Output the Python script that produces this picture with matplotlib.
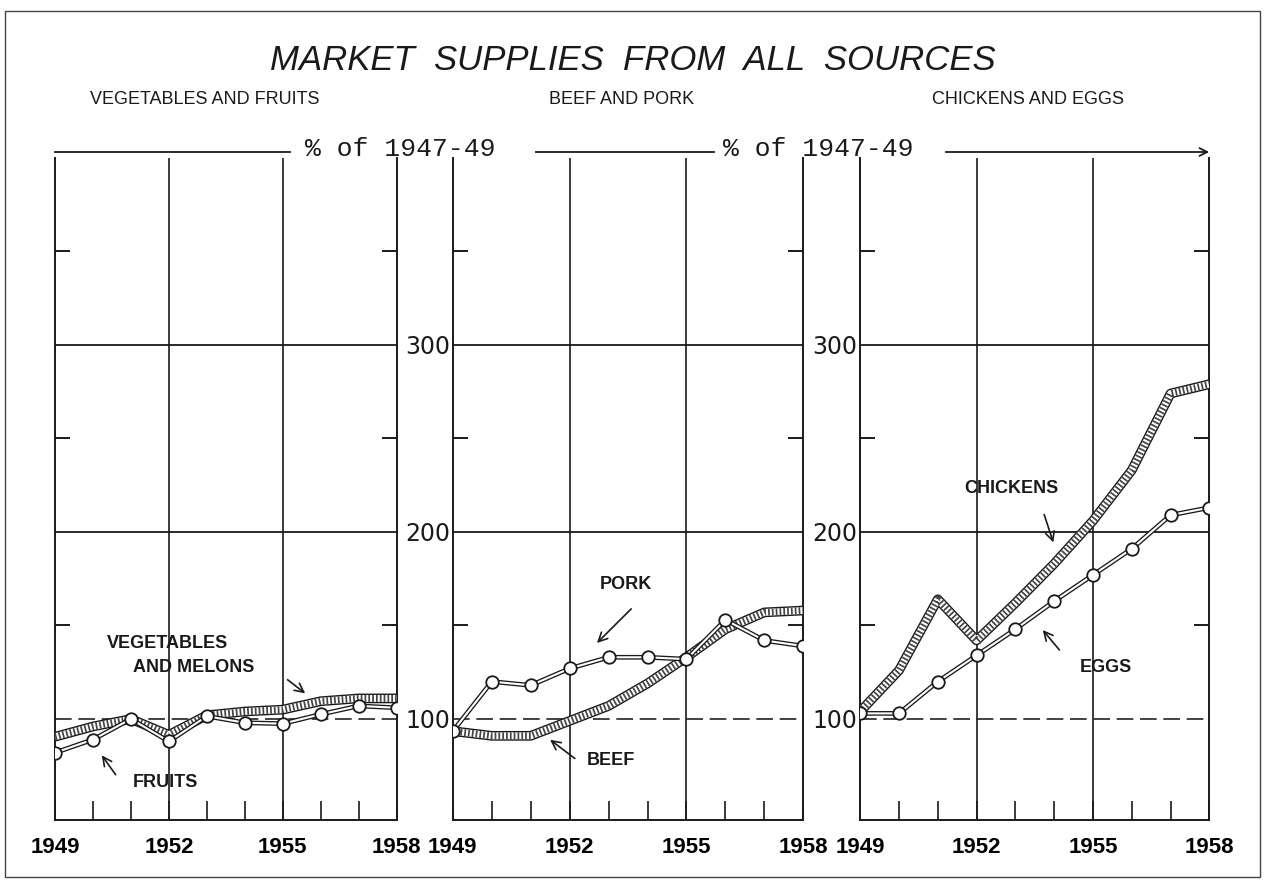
import numpy as np
import matplotlib.pyplot as plt
from matplotlib.patches import Rectangle, FancyArrowPatch
from matplotlib.lines import Line2D

# --- data (% of 1947-49) ---
years = [1949, 1950, 1951, 1952, 1953, 1954, 1955, 1956, 1957, 1958]
year_labels = [1949, 1952, 1955, 1958]

vegetables = [90.5, 96, 100, 91.5, 102, 104, 105, 109.5, 111, 111]
fruits = [82, 89, 100, 88, 101.5, 98, 97.5, 102.5, 107, 106]
beef = [93.5, 91, 91, 99, 107, 119, 133, 148, 157, 158]
pork = [93.5, 120, 118, 127, 133, 133, 132, 153, 142, 139]
chickens = [104, 126, 164, 142, 162, 183, 206, 233, 274, 279]
eggs = [103, 103, 120, 134, 148, 163, 177, 191, 209, 213]

panel_titles = ["VEGETABLES AND FRUITS", "BEEF AND PORK", "CHICKENS AND EGGS"]

SANS = ['Liberation Sans', 'DejaVu Sans']
INK = '#1a1a1a'


def hatched(ax, x, y):
    # thick band drawn as outline + cross bars
    ax.plot(x, y, color=INK, lw=7, solid_capstyle='butt', zorder=4)
    ax.plot(x, y, color='white', lw=5, solid_capstyle='butt', zorder=5)
    ax.plot(x, y, color='#444444', lw=5, linestyle=(0, (0.25, 0.3)),
            dash_capstyle='butt', zorder=6)


def circled(ax, x, y):
    # double thin line with open circles
    ax.plot(x, y, color=INK, lw=3.4, zorder=7)
    ax.plot(x, y, color='white', lw=1.5, zorder=8)
    ax.plot(x, y, linestyle='none', marker='o', ms=9, mfc='white',
            mec=INK, mew=1.3, zorder=9)


fig = plt.figure(figsize=(12.65, 8.84), dpi=100)
fig.patch.set_facecolor('white')

# panel placement (figure fractions)
boxes = [(0.0435, 0.270), (0.358, 0.277), (0.680, 0.276)]
bottom, height = 0.0724, 0.749
title_x = [205, 622, 1028]

axes = []
for i, (left, width) in enumerate(boxes):
    ax = fig.add_axes([left, bottom, width, height])
    ax.set_xlim(1949, 1958)
    ax.set_ylim(46, 400)
    for s in ['left', 'right', 'bottom']:
        ax.spines[s].set_linewidth(1.4)
        ax.spines[s].set_color(INK)
    ax.spines['top'].set_visible(False)

    # grid
    for v in [200, 300]:
        ax.axhline(v, color=INK, lw=1.3, zorder=1)
    ax.axhline(100, color='#222222', lw=1.2, ls=(0, (10, 4)), zorder=1)
    for yr in [1952, 1955]:
        ax.axvline(yr, color=INK, lw=1.2, zorder=1)

    # x ticks: one per year, labels only on some
    ax.set_xticks(years)
    ax.set_xticklabels([str(y) if y in year_labels else '' for y in years],
                       family=SANS, fontsize=16, fontweight='bold')
    ax.tick_params(axis='x', direction='in', length=14, width=1.2,
                   color=INK, pad=12)

    # y ticks: labelled 100/200/300 on panels 2 and 3, short dashes between
    ax.set_yticks([100, 200, 300])
    ax.set_yticks([150, 250, 350], minor=True)
    if i > 0:
        ax.set_yticklabels(['100', '200', '300'], fontsize=17, color=INK)
    else:
        ax.set_yticklabels([])
    ax.tick_params(axis='y', which='major', length=0, pad=2)
    ax.tick_params(axis='y', which='minor', direction='in', length=11,
                   width=1.4, left=True, right=True, color=INK)

    fig.text(title_x[i] / 1265, 1 - 100 / 884, panel_titles[i],
             ha='center', va='center', family=SANS, fontsize=13, color=INK)
    axes.append(ax)

ax1, ax2, ax3 = axes

hatched(ax1, years, vegetables)
circled(ax1, years, fruits)
hatched(ax2, years, beef)
circled(ax2, years, pork)
hatched(ax3, years, chickens)
circled(ax3, years, eggs)

# --- series labels with arrows ---
lab = dict(family=SANS, fontsize=13, fontweight='bold',
           color=INK, va='center', ha='left', zorder=10)
arr = dict(arrowstyle='->', color=INK, lw=1.2, mutation_scale=16)

ax1.text(1950.37, 140.6, 'VEGETABLES', **lab)
ax1.text(1951.06, 127.3, 'AND MELONS', **lab)
ax1.annotate('', xy=(1955.65, 112.8), xytext=(1955.07, 121.9), arrowprops=arr)
ax1.text(1951.06, 66.3, 'FRUITS', **lab)
ax1.annotate('', xy=(1950.19, 81.8), xytext=(1950.64, 69), arrowprops=arr)

ax2.text(1952.78, 171.7, 'PORK', **lab)
ax2.annotate('', xy=(1952.65, 139.6), xytext=(1953.63, 159.9), arrowprops=arr)
ax2.text(1952.44, 78, 'BEEF', **lab)
ax2.annotate('', xy=(1951.44, 89.8), xytext=(1952.19, 78), arrowprops=arr)

ax3.text(1951.69, 223, 'CHICKENS', **lab)
ax3.annotate('', xy=(1954.0, 193), xytext=(1953.72, 210.7), arrowprops=arr)
ax3.text(1954.65, 127.3, 'EGGS', **lab)
ax3.annotate('', xy=(1953.66, 148.7), xytext=(1954.18, 135.8), arrowprops=arr)

# --- header: title and "% of 1947-49" rule ---
fig.text(0.5, 0.932, 'MARKET  SUPPLIES  FROM  ALL  SOURCES', ha='center',
         va='center', family=SANS, style='italic', fontsize=25, color=INK)

hy = 1 - 152 / 884
for x0, x1 in [(55, 290), (536, 714)]:
    fig.add_artist(Line2D([x0 / 1265, x1 / 1265], [hy, hy], color=INK, lw=1.3))
fig.add_artist(FancyArrowPatch(
    (943 / 1265, hy), (1212 / 1265, hy), transform=fig.transFigure,
    arrowstyle='->', mutation_scale=14, color=INK, lw=1.3))
for xc in [400, 818]:
    fig.text(xc / 1265, hy + 0.003, '% of 1947-49', ha='center', va='center',
             family=['Liberation Mono', 'DejaVu Sans Mono'], fontsize=19,
             color=INK)

# outer frame
fig.add_artist(Rectangle((0.004, 0.008), 0.992, 0.98, transform=fig.transFigure,
                         fill=False, edgecolor='#444444', lw=1.0))

fig.savefig('out.png', dpi=100, facecolor='white')
